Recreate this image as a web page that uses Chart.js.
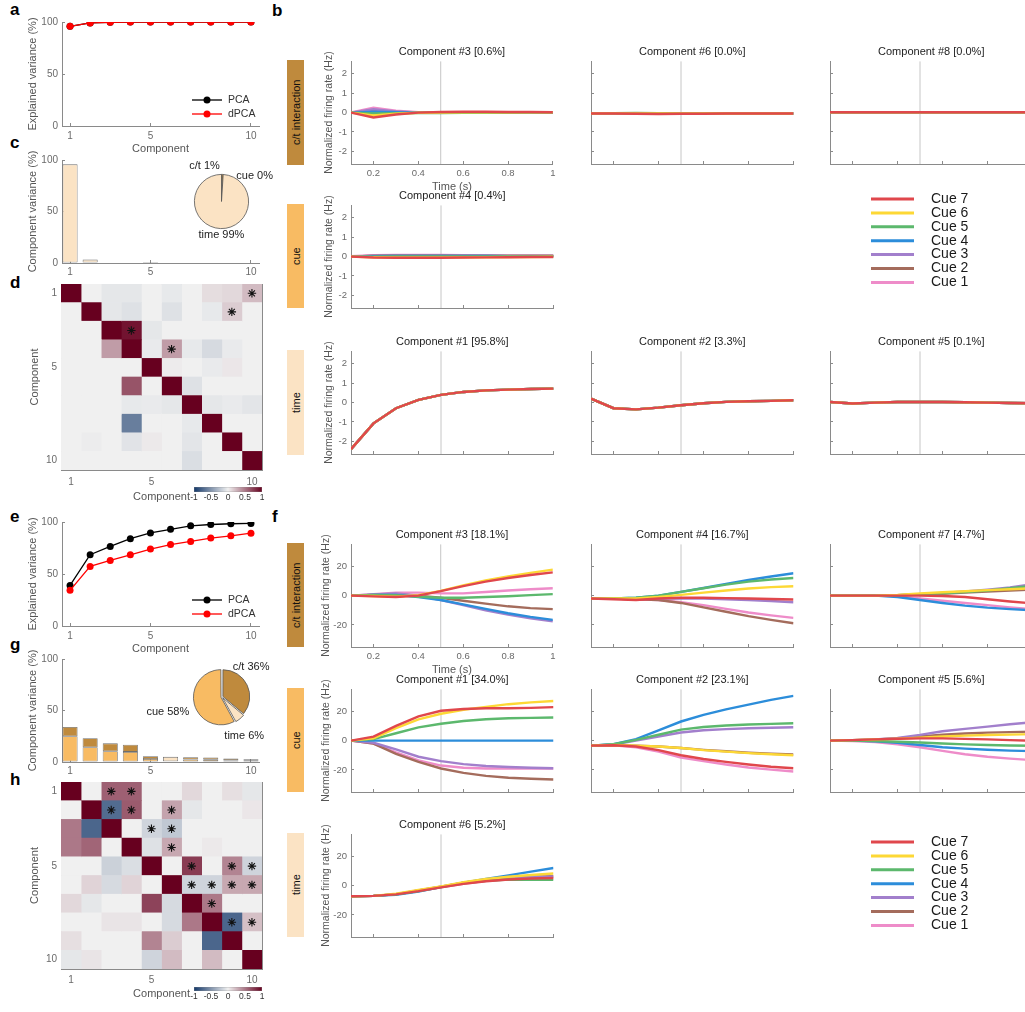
<!DOCTYPE html>
<html>
<head>
<meta charset="utf-8">
<script src="https://cdn.jsdelivr.net/npm/chart.js@4.4.1/dist/chart.umd.min.js"></script>
<style>
html, body { margin: 0; padding: 0; background: #fff; }
#fig { position: relative; width: 1025px; height: 1012px; overflow: hidden; font-family: 'Liberation Sans', Arial, sans-serif; }
.lbl { position: absolute; font-weight: bold; font-size: 17px; line-height: 17px; color: #000; }
.side { position: absolute; left: 287px; width: 17px; display: flex; align-items: center; justify-content: center;
        writing-mode: vertical-rl; transform: rotate(180deg); font-size: 11px; color: #111; }
</style>
</head>
<body>
<div id="fig">
  <div class="lbl" style="left:10px;top:1px">a</div>
  <div class="lbl" style="left:272px;top:2px">b</div>
  <div class="lbl" style="left:10px;top:134px">c</div>
  <div class="lbl" style="left:10px;top:274px">d</div>
  <div class="lbl" style="left:10px;top:508px">e</div>
  <div class="lbl" style="left:272px;top:508px">f</div>
  <div class="lbl" style="left:10px;top:636px">g</div>
  <div class="lbl" style="left:10px;top:771px">h</div>

  <div class="side" style="top:60px;height:105px;background:#bf8a3d">c/t interaction</div>
  <div class="side" style="top:204px;height:104px;background:#f8bb63">cue</div>
  <div class="side" style="top:350px;height:105px;background:#fbe3c4">time</div>
  <div class="side" style="top:543px;height:104px;background:#bf8a3d">c/t interaction</div>
  <div class="side" style="top:688px;height:104px;background:#f8bb63">cue</div>
  <div class="side" style="top:833px;height:104px;background:#fbe3c4">time</div>
</div>
<script>
// ---- data ----
const TIME = [0.1, 0.2, 0.3, 0.4, 0.5, 0.6, 0.7, 0.8, 0.9, 1.0];
const TIME_TICKS = [0.2, 0.4, 0.6, 0.8, 1.0];
const EVENT_T = 0.5;
const CUES = ['Cue 7', 'Cue 6', 'Cue 5', 'Cue 4', 'Cue 3', 'Cue 2', 'Cue 1'];
const CUE_COLORS = ['#e0474c', '#fdd835', '#5cb86d', '#2c8dda', '#a27fcc', '#a46c5c', '#ee8cc9'];
const COMPONENTS = [1, 2, 3, 4, 5, 6, 7, 8, 9, 10];
const COMP_TICKS = [1, 5, 10];
const PCT_TICKS = [0, 50, 100];
const CB_TICKS = [-1, -0.5, 0, 0.5, 1];
const MARG_COLORS = { ct: '#bf8a3d', cue: '#f8bb63', time: '#fbe3c4' };

// top dataset (a-d)
const A_PCA = [95.8, 99.1, 99.7, 99.9, 100, 100, 100, 100, 100, 100];
const A_DPCA = [95.8, 99.1, 99.7, 99.9, 100, 100, 100, 100, 100, 100];
const B_PCT = [95.8, 3.3, 0.6, 0.4, 0.1, 0.0, 0.0, 0.0, 0.0, 0.0];
const C_TIME = [95.8, 3.3, 0, 0, 0.1, 0, 0, 0, 0, 0];
const C_CUE = [0, 0, 0, 0.4, 0, 0, 0, 0, 0, 0];
const C_CT = [0, 0, 0.6, 0, 0, 0, 0, 0, 0, 0];
const C_PIE_LABELS = ['c/t', 'cue', 'time'];
const C_PIE = [1, 0, 99];

const B_COMP3 = [
  [0, -0.25, -0.1, 0, 0.03, 0.04, 0.04, 0.03, 0.03, 0.02],
  [0, -0.15, -0.06, -0.01, 0, 0.01, 0.01, 0.01, 0.01, 0.01],
  [0, -0.05, -0.03, -0.02, -0.02, -0.01, -0.01, -0.01, 0, 0],
  [0, 0.05, 0.02, 0, -0.01, -0.01, -0.01, -0.01, -0.01, -0.01],
  [0, 0.17, 0.06, 0.01, 0, 0, -0.01, -0.01, -0.01, -0.01],
  [0, 0.1, 0.04, 0, -0.01, -0.01, -0.01, -0.01, -0.01, -0.01],
  [0, 0.25, 0.1, 0.02, 0.01, 0.01, 0.01, 0.01, 0.01, 0.01]
];
const B_COMP6 = [
  [-0.05, -0.05, -0.06, -0.07, -0.06, -0.06, -0.05, -0.05, -0.05, -0.05],
  [-0.05, -0.04, -0.04, -0.05, -0.05, -0.05, -0.05, -0.05, -0.05, -0.05],
  [-0.05, -0.03, -0.02, -0.03, -0.04, -0.05, -0.05, -0.05, -0.05, -0.05],
  [-0.05, -0.04, -0.03, -0.04, -0.05, -0.05, -0.05, -0.05, -0.05, -0.05],
  [-0.05, -0.05, -0.05, -0.06, -0.06, -0.05, -0.05, -0.05, -0.05, -0.05],
  [-0.05, -0.04, -0.04, -0.05, -0.05, -0.05, -0.05, -0.05, -0.05, -0.05],
  [-0.05, -0.05, -0.05, -0.06, -0.06, -0.05, -0.05, -0.05, -0.05, -0.05]
];
const B_COMP8 = [
  [0.02, 0.02, 0.02, 0.02, 0.02, 0.02, 0.02, 0.02, 0.02, 0.02],
  [0.02, 0.02, 0.02, 0.02, 0.02, 0.02, 0.02, 0.02, 0.02, 0.02],
  [0.02, 0.02, 0.02, 0.02, 0.02, 0.02, 0.02, 0.02, 0.02, 0.02],
  [0.02, 0.02, 0.02, 0.02, 0.02, 0.02, 0.02, 0.02, 0.02, 0.02],
  [0.02, 0.02, 0.02, 0.02, 0.02, 0.02, 0.02, 0.02, 0.02, 0.02],
  [0.02, 0.02, 0.02, 0.02, 0.02, 0.02, 0.02, 0.02, 0.02, 0.02],
  [0.02, 0.02, 0.02, 0.02, 0.02, 0.02, 0.02, 0.02, 0.02, 0.02]
];
const B_COMP4 = [
  [0, -0.05, -0.06, -0.06, -0.06, -0.05, -0.04, -0.03, -0.02, -0.02],
  [0, -0.03, -0.04, -0.04, -0.04, -0.03, -0.03, -0.02, -0.02, -0.01],
  [0, 0, 0.01, 0.01, 0.01, 0.01, 0.01, 0.01, 0.01, 0.01],
  [0, 0.02, 0.03, 0.03, 0.03, 0.03, 0.03, 0.02, 0.02, 0.02],
  [0, 0.04, 0.05, 0.05, 0.05, 0.04, 0.04, 0.03, 0.03, 0.03],
  [0, 0.05, 0.06, 0.06, 0.06, 0.05, 0.05, 0.04, 0.04, 0.04],
  [0.02, 0.07, 0.08, 0.08, 0.08, 0.07, 0.06, 0.05, 0.05, 0.05]
];
const B_COMP1 = [
  [-2.4, -1.07, -0.29, 0.14, 0.4, 0.55, 0.63, 0.67, 0.7, 0.72],
  [-2.4, -1.07, -0.29, 0.14, 0.4, 0.55, 0.63, 0.67, 0.7, 0.72],
  [-2.4, -1.07, -0.29, 0.14, 0.4, 0.55, 0.63, 0.67, 0.7, 0.72],
  [-2.4, -1.07, -0.29, 0.14, 0.4, 0.55, 0.63, 0.67, 0.7, 0.72],
  [-2.4, -1.07, -0.29, 0.14, 0.4, 0.55, 0.63, 0.67, 0.7, 0.72],
  [-2.4, -1.07, -0.29, 0.14, 0.4, 0.55, 0.63, 0.67, 0.7, 0.72],
  [-2.4, -1.07, -0.29, 0.14, 0.4, 0.55, 0.63, 0.67, 0.7, 0.72]
];
const B_COMP2 = [
  [0.2, -0.29, -0.35, -0.26, -0.14, -0.03, 0.04, 0.07, 0.09, 0.12],
  [0.2, -0.29, -0.35, -0.26, -0.14, -0.03, 0.04, 0.07, 0.09, 0.12],
  [0.2, -0.29, -0.35, -0.26, -0.14, -0.03, 0.04, 0.07, 0.09, 0.12],
  [0.2, -0.29, -0.35, -0.26, -0.14, -0.03, 0.04, 0.07, 0.09, 0.12],
  [0.2, -0.29, -0.35, -0.26, -0.14, -0.03, 0.04, 0.07, 0.09, 0.12],
  [0.2, -0.29, -0.35, -0.26, -0.14, -0.03, 0.04, 0.07, 0.09, 0.12],
  [0.2, -0.29, -0.35, -0.26, -0.14, -0.03, 0.04, 0.07, 0.09, 0.12]
];
const B_COMP5 = [
  [0.03, -0.05, 0, 0.03, 0.03, 0.03, 0.02, 0, -0.02, -0.03],
  [0.03, -0.05, 0, 0.03, 0.03, 0.03, 0.02, 0, -0.02, -0.03],
  [0.03, -0.05, 0, 0.03, 0.03, 0.03, 0.02, 0, -0.02, -0.03],
  [0.03, -0.05, 0, 0.03, 0.03, 0.03, 0.02, 0, -0.02, -0.03],
  [0.03, -0.05, 0, 0.03, 0.03, 0.03, 0.02, 0, -0.02, -0.03],
  [0.03, -0.05, 0, 0.03, 0.03, 0.03, 0.02, 0, -0.02, -0.03],
  [0.03, -0.05, 0, 0.03, 0.03, 0.03, 0.02, 0, -0.02, -0.03]
];

const D_CORR = [
  [1, 0, -0.05, -0.05, 0, -0.04, 0, 0.08, 0.1, 0.22],
  [0, 1, -0.05, -0.08, 0, -0.08, 0, -0.04, 0.15, 0],
  [0, 0, 1, 0.92, -0.05, 0, 0, 0, 0, 0],
  [0, 0, 0.35, 1, -0.03, 0.35, -0.04, -0.12, -0.03, 0],
  [0, 0, 0, 0, 1, 0.02, 0, -0.03, 0.04, 0],
  [0, 0, 0, 0.65, 0, 1, -0.08, 0, 0, 0],
  [0, 0, 0, -0.04, -0.03, -0.05, 1, -0.05, -0.03, -0.06],
  [0, 0, 0, -0.62, 0, 0, -0.04, 1, 0, 0],
  [0, -0.02, 0, -0.07, 0.03, 0, -0.06, 0, 1, 0],
  [0, 0, 0, 0, 0, 0, -0.1, 0, 0, 1]
];
const D_STARS = [[1, 10], [2, 9], [3, 4], [4, 6]];

// bottom dataset (e-h)
const E_PCA = [39, 68.5, 76.5, 84, 89.5, 93, 96.3, 97.6, 98.3, 98.6];
const E_DPCA = [34.3, 57.3, 63, 68.5, 74, 78.3, 81.3, 84.5, 86.7, 89.3];
const F_PCT = [34.0, 23.1, 18.1, 16.7, 5.6, 5.2, 4.7, 4.3, 3.3, 2.6];
const G_CUE = [25, 14.3, 10.5, 9.8, 2.9, 0.8, 2.4, 2.3, 1.5, 1.2];
const G_TIME = [0, 0, 0, 0, 0, 4.2, 0, 0, 0, 0];
const G_CT = [9, 8.8, 7.6, 6.9, 2.7, 0.2, 2.3, 2.0, 1.8, 1.4];
const G_PIE_LABELS = ['c/t', 'time', 'cue'];
const G_PIE = [36, 6, 58];

const F_COMP3 = [
  [0, -0.5, -1, 0, 3, 6.5, 9.5, 12, 14, 15.8],
  [0, -0.3, -0.8, 0.3, 3.2, 7, 10.3, 13, 15.5, 17.7],
  [0, 0.5, 0.3, -0.8, -1.5, -1.5, -1, -0.4, 0.3, 1],
  [0, 0.5, 0.5, -1, -3, -6, -9, -12, -14.5, -16.5],
  [0, 0.8, 1.5, 0, -3, -6.5, -10, -13, -15.5, -17.5],
  [0, 0.5, 1, 0, -1.5, -3.5, -5.5, -7.3, -8.5, -9.2],
  [0, 1, 2, 2, 1.5, 1.5, 2.5, 3.5, 4.3, 5]
];
const F_COMP4 = [
  [-2, -2.5, -3, -2, -1.5, -1.5, -1.7, -2, -2.3, -2.7],
  [-2, -2, -2, -1, 0.5, 2, 3.5, 4.8, 5.8, 6.4],
  [-2, -2, -1.5, 0, 2.5, 5, 7.5, 9.5, 11, 12],
  [-2, -2, -1.5, 0, 2.5, 5.2, 8, 10.6, 13, 15.2],
  [-2, -2, -2.5, -2, -1.8, -2, -2.5, -3, -3.7, -4.5],
  [-2, -2, -2.5, -3, -5, -8, -11, -14, -16.5, -18.8],
  [-2, -2, -2.5, -3, -4.5, -6.5, -9, -11.5, -13.5, -15.2]
];
const F_COMP7 = [
  [0, 0, 0, 0, 0, -0.3, -1, -2.5, -4, -5.3],
  [0, 0, 0, 0.5, 1.5, 2.3, 3, 3.7, 4.3, 5],
  [0, 0, 0, 0.2, 0.8, 1.5, 2.5, 3.5, 5, 6.7],
  [0, 0, 0, -1, -3, -5, -6.8, -8.2, -9.2, -10],
  [0, 0, 0, 0.3, 1, 1.8, 2.8, 4, 5.5, 7.8],
  [0, 0, 0, 0.2, 0.7, 1.3, 2, 2.8, 3.5, 4.2],
  [0, 0, 0, -0.5, -2, -3.5, -5, -6.5, -8, -9.3]
];
const F_COMP1 = [
  [0, 2.7, 10, 16.5, 20.3, 21.5, 22, 22, 22.3, 22.8],
  [0, 1.5, 8.5, 14.5, 18.3, 21, 23, 24.8, 26, 27],
  [0, 1, 5, 9, 11.5, 13.3, 14.5, 15.2, 15.5, 15.7],
  [0, 0, 0, 0, 0, 0, 0, 0, 0, 0],
  [0, -1.5, -6, -11, -14, -16, -17.3, -18, -18.5, -18.8],
  [0, -2, -9, -14.5, -19, -22, -24, -25.3, -26, -26.5],
  [0, -2, -8, -13.5, -17, -18.5, -19, -19, -19, -19]
];
const F_COMP2 = [
  [-3.4, -3.2, -4, -6.5, -10, -12.5, -14.5, -16.3, -17.8, -18.8],
  [-3.4, -3, -3.5, -4, -5, -6.5, -7.5, -8.5, -9.3, -10],
  [-3.4, -2.5, 0.5, 4, 7.5, 9.3, 10.3, 11, 11.4, 11.8],
  [-3.4, -2.5, 1, 7, 13, 17.5, 21.3, 24.5, 27.7, 30.5],
  [-3.4, -2.7, 0, 2.8, 5.5, 7, 7.8, 8.4, 8.8, 9.1],
  [-3.4, -3, -3.5, -4, -5, -6.3, -7.3, -8.3, -9, -9.5],
  [-3.4, -3.2, -4.5, -7.5, -11.5, -14, -16.3, -18.3, -19.8, -21]
];
const F_COMP5 = [
  [0, 0.3, 0.8, 1.3, 1.5, 1.5, 1.2, 0.8, 0.3, -0.1],
  [0, 0.3, 0.8, 1.3, 2, 2.8, 3.4, 3.8, 4.1, 4.4],
  [0, 0, -0.3, -0.8, -1.3, -2, -2.6, -3, -3.3, -3.5],
  [0, 0, -0.5, -1.5, -3, -4.5, -5.5, -6.2, -6.8, -7.2],
  [0, 0.3, 0.8, 1.8, 3.9, 6.4, 8, 9.5, 11.1, 12.5],
  [0, 0.3, 0.8, 1.5, 2.8, 4, 4.8, 5.4, 5.8, 6.1],
  [0, -0.3, -1, -2.5, -4.5, -7, -9.3, -11, -12.3, -13.3]
];
const F_COMP6 = [
  [-7.3, -7, -6, -3.8, -1.2, 1.2, 3, 4.2, 4.8, 5.2],
  [-7.3, -7, -5.5, -3, -0.5, 2.3, 4.5, 6, 7.2, 8.2],
  [-7.3, -7, -6, -3.8, -1, 1.5, 3.3, 4.2, 4, 3.9],
  [-7.3, -7, -6.2, -4, -1, 2, 4.5, 7, 9.5, 12],
  [-7.3, -7, -5.8, -3.3, -0.7, 2, 4, 5.2, 5.8, 6.2],
  [-7.3, -7, -5.8, -3.3, -0.7, 2, 4, 5.2, 6, 6.4],
  [-7.3, -7, -6, -3.8, -1.2, 1.3, 3.2, 4.3, 4.8, 5]
];

const H_CORR = [
  [1, 0, 0.6, 0.6, 0, 0, 0.1, 0, 0.07, -0.05],
  [0, 1, -0.72, 0.62, 0, 0.32, -0.05, 0, 0, 0.04],
  [0.5, -0.75, 1, 0, -0.15, -0.22, 0, 0, 0, 0],
  [0.5, 0.58, 0, 1, -0.08, 0.3, 0, 0.03, 0, 0],
  [0, 0, -0.17, -0.1, 1, 0, 0.75, 0, 0.45, -0.15],
  [0, 0.12, -0.12, 0.12, 0, 1, -0.15, -0.15, 0.3, 0.3],
  [0.1, -0.05, 0, 0, 0.72, -0.12, 1, 0.5, 0, 0],
  [0, 0, 0.05, 0.05, 0, -0.12, 0.5, 1, -0.75, 0.2],
  [0.07, 0, 0, 0, 0.45, 0.15, 0, -0.75, 1, 0],
  [-0.05, 0.05, 0, 0, -0.15, 0.22, 0, 0.22, 0, 1]
];
const H_STARS = [[1, 3], [1, 4], [2, 3], [2, 4], [2, 6], [3, 5], [3, 6], [4, 6], [5, 7], [5, 9], [5, 10],
                 [6, 7], [6, 8], [6, 9], [6, 10], [7, 8], [8, 9], [8, 10]];

// ---- style ----
Chart.defaults.font.family = "'Liberation Sans', Arial, sans-serif";
Chart.defaults.plugins.tooltip.enabled = false;
Chart.defaults.plugins.legend.display = false;
const AX_COLOR = '#8a8a8a';
const TICK_COLOR = '#6a6a6a';
const LABEL_COLOR = '#555';
const TITLE_COLOR = '#222';

function cmap(v) {
  const mid = [240, 240, 240], pos = [103, 0, 31], neg = [20, 56, 106];
  const t = Math.min(1, Math.abs(v));
  const end = v >= 0 ? pos : neg;
  return 'rgb(' + mid.map((m, i) => Math.round(m + (end[i] - m) * t)).join(',') + ')';
}

// rotated y label drawn left of the plot, no squeezing
const yLabel = {
  id: 'yLabel',
  afterDraw(chart, args, o) {
    if (!o.text) return;
    const { ctx, chartArea: a } = chart;
    ctx.save();
    ctx.translate(a.left - o.gap, (a.top + a.bottom) / 2);
    ctx.rotate(-Math.PI / 2);
    ctx.font = (o.size || 11) + "px 'Liberation Sans', Arial, sans-serif";
    ctx.fillStyle = LABEL_COLOR;
    ctx.textAlign = 'center';
    ctx.textBaseline = 'middle';
    ctx.fillText(o.text, 0, 0);
    ctx.restore();
  }
};

// simple line legend (line sample + optional marker + text)
const lineLegend = {
  id: 'lineLegend',
  afterDraw(chart, args, o) {
    if (!o.show) return;
    const { ctx, chartArea: a } = chart;
    ctx.save();
    ctx.font = o.size + "px 'Liberation Sans', Arial, sans-serif";
    ctx.textBaseline = 'middle';
    ctx.textAlign = 'left';
    chart.data.datasets.filter(d => d.label).forEach((d, i) => {
      const y = a.top + o.top + i * o.rowH;
      const x = a.left + o.left;
      ctx.strokeStyle = d.borderColor;
      ctx.lineWidth = o.lineWidth;
      ctx.beginPath(); ctx.moveTo(x, y); ctx.lineTo(x + o.len, y); ctx.stroke();
      if (o.marker) {
        ctx.fillStyle = d.borderColor;
        ctx.beginPath(); ctx.arc(x + o.len / 2, y, o.marker, 0, Math.PI * 2); ctx.fill();
      }
      ctx.fillStyle = o.color;
      ctx.fillText(d.label, x + o.len + o.gap, y);
    });
    ctx.restore();
  }
};

// pie labels "name value%"
const pieLabels = {
  id: 'pieLabels',
  afterDatasetsDraw(chart, args, o) {
    if (!o.k) return;
    const { ctx } = chart;
    const vals = chart.data.datasets[0].data;
    ctx.save();
    ctx.font = o.size + "px 'Liberation Sans', Arial, sans-serif";
    ctx.fillStyle = '#222';
    ctx.textAlign = 'center';
    ctx.textBaseline = 'middle';
    chart.getDatasetMeta(0).data.forEach((arc, i) => {
      const mid = (arc.startAngle + arc.endAngle) / 2;
      const r = arc.outerRadius * o.k;
      const n = o.nudge[i];
      ctx.fillText(chart.data.labels[i] + ' ' + vals[i] + '%',
        arc.x + Math.cos(mid) * r + n[0], arc.y + Math.sin(mid) * r + n[1]);
    });
    ctx.restore();
  }
};

function ax(o) {
  return {
    type: 'linear', position: o.pos, min: o.min, max: o.max, reverse: !!o.reverse, offset: false,
    border: { display: true, color: AX_COLOR, width: 1 },
    grid: { display: true, offset: false, drawOnChartArea: false, drawTicks: true, tickLength: -3, color: AX_COLOR, lineWidth: 1 },
    ticks: {
      color: TICK_COLOR, font: { size: o.fs || 10 }, padding: o.pad, autoSkip: false, maxRotation: 0,
      callback: v => (o.noLabels ? '' : (o.fmt ? o.fmt(v) : String(v)))
    },
    afterBuildTicks: s => { s.ticks = o.ticks.map(v => ({ value: v })); },
    afterFit: s => { if (o.pos === 'left' || o.pos === 'right') s.width = o.size; else s.height = o.size; },
    title: o.title ? { display: true, text: o.title, color: LABEL_COLOR, font: { size: 11 }, padding: 0 } : { display: false }
  };
}

function makeChart(area, config) {
  const box = document.createElement('div');
  box.style.position = 'absolute';
  const cv = document.createElement('canvas');
  box.appendChild(cv);
  document.getElementById('fig').appendChild(box);
  config.options = config.options || {};
  Object.assign(config.options, { responsive: false, maintainAspectRatio: false, animation: false, devicePixelRatio: 1 });
  cv.width = area.w + 160;
  cv.height = area.h + 160;
  const chart = new Chart(cv, config);
  for (let k = 0; k < 3; k++) {
    const ca = chart.chartArea;
    const w = Math.round(chart.width + area.w - (ca.right - ca.left));
    const h = Math.round(chart.height + area.h - (ca.bottom - ca.top));
    if (w === chart.width && h === chart.height) break;
    chart.resize(w, h);
  }
  const ca = chart.chartArea;
  box.style.left = (area.x - ca.left) + 'px';
  box.style.top = (area.y - ca.top) + 'px';
  return chart;
}

// ---- a / e: explained variance ----
function varPanel(area, pca, dpca) {
  return makeChart(area, {
    type: 'line',
    data: {
      datasets: [
        { label: 'PCA', data: pca.map((v, i) => ({ x: COMPONENTS[i], y: v })), borderColor: '#000', backgroundColor: '#000',
          borderWidth: 1.3, pointRadius: 3.5, pointBorderWidth: 0, order: 2 },
        { label: 'dPCA', data: dpca.map((v, i) => ({ x: COMPONENTS[i], y: v })), borderColor: '#ff0000', backgroundColor: '#ff0000',
          borderWidth: 1.3, pointRadius: 3.5, pointBorderWidth: 0, order: 1 }
      ]
    },
    options: {
      layout: { padding: { left: 20, right: 8, top: 14, bottom: 4 } },
      scales: {
        x: ax({ pos: 'bottom', min: 0.6, max: 10.4, ticks: COMP_TICKS, size: 30, pad: 7, title: 'Component' }),
        y: ax({ pos: 'left', min: 0, max: 100, ticks: PCT_TICKS, size: 28, pad: 7 })
      },
      plugins: {
        yLabel: { text: 'Explained variance (%)', gap: 29, size: 11 },
        lineLegend: { show: true, left: 130, top: 78, rowH: 14, len: 30, gap: 6, marker: 3.5, lineWidth: 1.3, size: 10.5, color: '#333' }
      }
    },
    plugins: [yLabel, lineLegend]
  });
}

// ---- c / g: component variance bars ----
function barPanel(area, parts) {
  return makeChart(area, {
    type: 'bar',
    data: {
      datasets: parts.map(p => ({
        data: p.vals.map((v, i) => ({ x: COMPONENTS[i], y: v })),
        backgroundColor: p.color, borderColor: '#6e6e6e', borderWidth: 0.8, borderSkipped: false,
        barPercentage: 0.75, categoryPercentage: 1
      }))
    },
    options: {
      layout: { padding: { left: 20, right: 8, top: 12, bottom: 4 } },
      scales: {
        x: Object.assign(ax({ pos: 'bottom', min: 0.6, max: 10.4, ticks: COMP_TICKS, size: 16, pad: 6 }), { stacked: true }),
        y: Object.assign(ax({ pos: 'left', min: 0, max: 100, ticks: PCT_TICKS, size: 28, pad: 7 }), { stacked: true })
      },
      plugins: { yLabel: { text: 'Component variance (%)', gap: 29, size: 11 } }
    },
    plugins: [yLabel]
  });
}

function piePanel(area, labels, vals, colors, offset, nudge) {
  return makeChart(area, {
    type: 'pie',
    data: { labels, datasets: [{ data: vals, backgroundColor: colors, borderColor: '#555', borderWidth: 0.8, offset }] },
    options: {
      layout: { padding: 65 },
      plugins: { pieLabels: { k: 1.25, size: 11, nudge } }
    },
    plugins: [pieLabels]
  });
}

// ---- d / h: correlation heatmaps ----
function heatPanel(area, M, stars, botSize, botPad) {
  const datasets = COMPONENTS.map(c => ({
    type: 'bar',
    data: COMPONENTS.map(r => ({ y: r, x: [c - 0.5, c + 0.5] })),
    backgroundColor: COMPONENTS.map(r => cmap(M[r - 1][c - 1])),
    borderWidth: 0, barPercentage: 1, categoryPercentage: 1, grouped: false, order: 2
  }));
  datasets.push({
    type: 'scatter', data: stars.map(s => ({ x: s[1], y: s[0] })), pointStyle: 'star', pointRadius: 4.2,
    borderColor: '#111', backgroundColor: '#111', borderWidth: 1.1, order: 1
  });
  return makeChart(area, {
    type: 'bar',
    data: { datasets },
    options: {
      indexAxis: 'y',
      layout: { padding: { left: 22, right: 8, top: 4, bottom: 2 } },
      scales: {
        x: ax({ pos: 'bottom', min: 0.5, max: 10.5, ticks: COMP_TICKS, size: botSize, pad: botPad, title: 'Component' }),
        x2: ax({ pos: 'top', min: 0.5, max: 10.5, ticks: COMP_TICKS, size: 2, pad: 0, noLabels: true }),
        y: ax({ pos: 'left', min: 0.5, max: 10.5, reverse: true, ticks: COMP_TICKS, size: 26, pad: 7 }),
        y2: ax({ pos: 'right', min: 0.5, max: 10.5, reverse: true, ticks: COMP_TICKS, size: 2, pad: 0, noLabels: true })
      },
      plugins: { yLabel: { text: 'Component', gap: 26, size: 11 } }
    },
    plugins: [yLabel]
  });
}

function colorbar(area) {
  return makeChart(area, {
    type: 'bar',
    data: {
      labels: ['c'],
      datasets: [{
        data: [[CB_TICKS[0], CB_TICKS[CB_TICKS.length - 1]]],
        backgroundColor: c => {
          const { ctx, chartArea, scales } = c.chart;
          if (!chartArea) return '#ccc';
          const g = ctx.createLinearGradient(scales.x.getPixelForValue(-1), 0, scales.x.getPixelForValue(1), 0);
          [-1, 0, 1].forEach(v => g.addColorStop((v + 1) / 2, cmap(v)));
          return g;
        },
        borderColor: AX_COLOR, borderWidth: 0.6, borderSkipped: false, barPercentage: 1, categoryPercentage: 1
      }]
    },
    options: {
      indexAxis: 'y',
      layout: { padding: { left: 10, right: 10, top: 2, bottom: 2 } },
      scales: {
        x: {
          type: 'linear', min: -1, max: 1, offset: false,
          border: { display: false },
          grid: { display: false, drawTicks: false },
          ticks: { color: '#333', font: { size: 8.5 }, padding: 1, autoSkip: false, maxRotation: 0, callback: v => String(v) },
          afterBuildTicks: s => { s.ticks = CB_TICKS.map(v => ({ value: v })); },
          afterFit: s => { s.height = 12; }
        },
        y: { display: false }
      }
    }
  });
}

// ---- b / f: component traces ----
function tracePanel(area, comp, pct, series, yMax, yTicks, o) {
  const datasets = series.map((s, i) => ({
    label: CUES[i], data: s.map((v, j) => ({ x: TIME[j], y: v })),
    borderColor: CUE_COLORS[i], backgroundColor: CUE_COLORS[i], borderWidth: 2.4, pointRadius: 0, tension: 0, order: 1
  }));
  datasets.push({
    data: [{ x: EVENT_T, y: -yMax }, { x: EVENT_T, y: yMax }],
    borderColor: '#c6c6c6', borderWidth: 1, pointRadius: 0, order: 2
  });
  return makeChart(area, {
    type: 'line',
    data: { datasets },
    options: {
      layout: { padding: { left: 18, right: 4, top: 2, bottom: 12 } },
      scales: {
        x: ax({ pos: 'bottom', min: 0.1, max: 1, ticks: TIME_TICKS, size: o.xLabels ? 30 : 4, pad: 6.5, fs: 9.5,
                noLabels: !o.xLabels, fmt: v => (v === 1 ? '1' : v.toFixed(1)), title: o.xLabels ? 'Time (s)' : null }),
        y: ax({ pos: 'left', min: -yMax, max: yMax, ticks: yTicks, size: 24, pad: 7, fs: 9.5, noLabels: !o.yLabels })
      },
      plugins: {
        title: { display: true, text: 'Component #' + comp + ' [' + pct.toFixed(1) + '%]', fullSize: false,
                 color: TITLE_COLOR, font: { size: 11, weight: 'normal' }, padding: { top: 2, bottom: 3 } },
        yLabel: o.yLabels ? { text: 'Normalized firing rate (Hz)', gap: o.labelGap || 22, size: 10.5 } : {}
      }
    },
    plugins: [yLabel]
  });
}

function cueLegend(area) {
  return makeChart(area, {
    type: 'line',
    data: { datasets: CUES.map((c, i) => ({ label: c, data: [], borderColor: CUE_COLORS[i] })) },
    options: {
      layout: { padding: 0 },
      scales: { x: { type: 'linear', display: false }, y: { type: 'linear', display: false } },
      plugins: { lineLegend: { show: true, left: 0, top: 7, rowH: 13.9, len: 43, gap: 17, lineWidth: 3, size: 14, color: '#1a1a1a' } }
    },
    plugins: [lineLegend]
  });
}

// ---- layout ----
const COL_X = [351, 591, 830];
const TW = 202, TH = 103;
const B_Y = [61, 205, 351];
const F_Y = [544, 689, 834];
const B_LIM = 2.65, B_TICKS = [-2, -1, 0, 1, 2];
const F_LIM = 35, F_TICKS = [-20, 0, 20];

varPanel({ x: 62, y: 22, w: 197, h: 104 }, A_PCA, A_DPCA);
barPanel({ x: 62, y: 160, w: 197, h: 103 }, [
  { vals: C_TIME, color: MARG_COLORS.time }, { vals: C_CUE, color: MARG_COLORS.cue }, { vals: C_CT, color: MARG_COLORS.ct }]);
piePanel({ x: 193.5, y: 173.5, w: 55, h: 55 }, C_PIE_LABELS, C_PIE,
  [MARG_COLORS.ct, MARG_COLORS.cue, MARG_COLORS.time], 0, [[-18, -2], [31, 8], [1, 0]]);
heatPanel({ x: 61, y: 284, w: 201, h: 186 }, D_CORR, D_STARS, 34, 9);
colorbar({ x: 194, y: 487, w: 68, h: 5 });

tracePanel({ x: COL_X[0], y: B_Y[0], w: TW, h: TH }, 3, B_PCT[2], B_COMP3, B_LIM, B_TICKS, { xLabels: true, yLabels: true });
tracePanel({ x: COL_X[1], y: B_Y[0], w: TW, h: TH }, 6, B_PCT[5], B_COMP6, B_LIM, B_TICKS, {});
tracePanel({ x: COL_X[2], y: B_Y[0], w: TW, h: TH }, 8, B_PCT[7], B_COMP8, B_LIM, B_TICKS, {});
tracePanel({ x: COL_X[0], y: B_Y[1], w: TW, h: TH }, 4, B_PCT[3], B_COMP4, B_LIM, B_TICKS, { yLabels: true });
tracePanel({ x: COL_X[0], y: B_Y[2], w: TW, h: TH }, 1, B_PCT[0], B_COMP1, B_LIM, B_TICKS, { yLabels: true });
tracePanel({ x: COL_X[1], y: B_Y[2], w: TW, h: TH }, 2, B_PCT[1], B_COMP2, B_LIM, B_TICKS, {});
tracePanel({ x: COL_X[2], y: B_Y[2], w: TW, h: TH }, 5, B_PCT[4], B_COMP5, B_LIM, B_TICKS, {});
cueLegend({ x: 871, y: 192, w: 150, h: 98 });

varPanel({ x: 62, y: 522, w: 197, h: 104 }, E_PCA, E_DPCA);
barPanel({ x: 62, y: 659, w: 197, h: 103 }, [
  { vals: G_CUE, color: MARG_COLORS.cue }, { vals: G_TIME, color: MARG_COLORS.time }, { vals: G_CT, color: MARG_COLORS.ct }]);
piePanel({ x: 193, y: 668, w: 58, h: 58 }, G_PIE_LABELS, G_PIE,
  [MARG_COLORS.ct, MARG_COLORS.time, MARG_COLORS.cue], 4, [[-1, -16], [1, 13], [-22, 7]]);
heatPanel({ x: 61, y: 782, w: 201, h: 187 }, H_CORR, H_STARS, 32, 8);
colorbar({ x: 194, y: 987, w: 68, h: 4 });

tracePanel({ x: COL_X[0], y: F_Y[0], w: TW, h: TH }, 3, F_PCT[2], F_COMP3, F_LIM, F_TICKS, { xLabels: true, yLabels: true, labelGap: 25 });
tracePanel({ x: COL_X[1], y: F_Y[0], w: TW, h: TH }, 4, F_PCT[3], F_COMP4, F_LIM, F_TICKS, {});
tracePanel({ x: COL_X[2], y: F_Y[0], w: TW, h: TH }, 7, F_PCT[6], F_COMP7, F_LIM, F_TICKS, {});
tracePanel({ x: COL_X[0], y: F_Y[1], w: TW, h: TH }, 1, F_PCT[0], F_COMP1, F_LIM, F_TICKS, { yLabels: true, labelGap: 25 });
tracePanel({ x: COL_X[1], y: F_Y[1], w: TW, h: TH }, 2, F_PCT[1], F_COMP2, F_LIM, F_TICKS, {});
tracePanel({ x: COL_X[2], y: F_Y[1], w: TW, h: TH }, 5, F_PCT[4], F_COMP5, F_LIM, F_TICKS, {});
tracePanel({ x: COL_X[0], y: F_Y[2], w: TW, h: TH }, 6, F_PCT[5], F_COMP6, F_LIM, F_TICKS, { yLabels: true, labelGap: 25 });
cueLegend({ x: 871, y: 835, w: 150, h: 98 });
</script>
</body>
</html>
